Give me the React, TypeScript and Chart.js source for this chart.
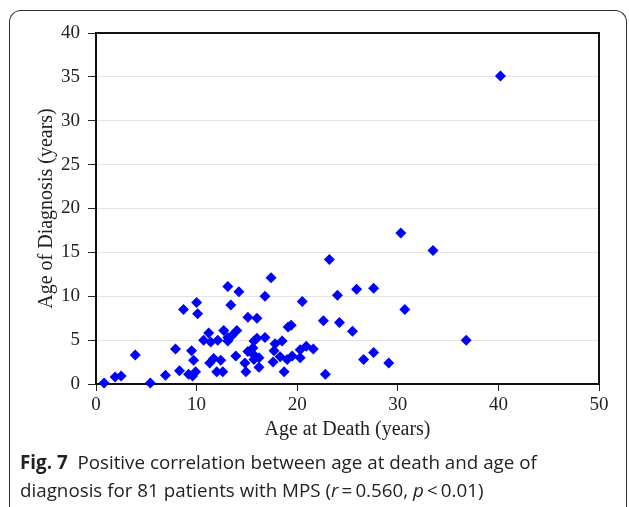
import React, { useEffect, useRef } from "react";
import { Chart, registerables } from "chart.js";

Chart.register(...registerables);

const ageAtDeath: number[] = [
  0.8, 1.9, 2.5, 3.9, 5.4, 6.9, 7.9, 8.3, 8.7, 9.2, 9.5, 9.7, 9.6, 9.9, 10.0, 10.1,
  13.1, 13.4, 14.2, 16.8, 15.1, 16.0, 11.2, 10.7, 11.4, 12.1, 12.7, 13.1, 13.5, 13.1,
  14.0, 16.0, 16.8, 17.8, 11.3, 11.7, 12.4, 12.0, 12.6, 13.9, 15.1, 15.6, 15.7, 14.8,
  15.7, 16.2, 14.9, 16.2, 17.6, 17.7, 23.2, 17.4, 20.5, 24.0, 25.9, 22.6, 24.2, 25.5,
  19.1, 19.4, 18.5, 18.3, 19.0, 19.5, 20.3, 20.3, 20.9, 21.6, 18.7, 22.8, 26.6, 30.3,
  33.5, 27.6, 30.7, 27.6, 29.1, 40.2, 36.8, 15.7,
];
const ageOfDiagnosis: number[] = [
  0.1, 0.8, 0.9, 3.3, 0.1, 1.0, 4.0, 1.5, 8.5, 1.1, 3.8, 2.7, 0.9, 1.4, 9.3, 8.0,
  11.1, 9.0, 10.5, 10.0, 7.6, 7.5, 5.8, 5.0, 4.8, 5.0, 6.1, 5.3, 5.5, 4.9,
  6.1, 5.2, 5.3, 4.6, 2.4, 2.9, 2.7, 1.4, 1.4, 3.2, 3.7, 4.1, 3.3, 2.4,
  2.8, 3.0, 1.4, 1.9, 2.5, 3.8, 14.2, 12.1, 9.4, 10.1, 10.8, 7.2, 7.0, 6.0,
  6.5, 6.7, 4.9, 3.1, 2.8, 3.2, 3.9, 3.0, 4.3, 4.0, 1.4, 1.1, 2.8, 17.2,
  15.2, 10.9, 8.5, 3.6, 2.4, 35.1, 5.0, 4.9,
];
const xTicks: number[] = [0, 10, 20, 30, 40, 50];
const yTicks: number[] = [0, 5, 10, 15, 20, 25, 30, 35, 40];
const xTitle = "Age at Death (years)";
const yTitle = "Age of Diagnosis (years)";

const W = 629;
const H = 507;

const framePlugin = {
  id: "frame",
  beforeDatasetsDraw(chart: any) {
    const { ctx, chartArea } = chart;
    ctx.save();
    ctx.strokeStyle = "#111";
    ctx.lineWidth = 2;
    ctx.strokeRect(chartArea.left, chartArea.top, chartArea.right - chartArea.left, chartArea.bottom - chartArea.top);
    ctx.restore();
  },
};

export default function App() {
  const ref = useRef<HTMLCanvasElement | null>(null);
  useEffect(() => {
    if (!ref.current) return;
    const data = ageAtDeath.map((x, i) => ({ x, y: ageOfDiagnosis[i] }));
    const chart = new Chart(ref.current, {
      type: "scatter",
      data: {
        datasets: [
          {
            data,
            pointStyle: "rectRot",
            pointRadius: 5.5,
            pointBackgroundColor: "#0000ff",
            pointBorderColor: "#0000ff",
            pointBorderWidth: 0,
            clip: false,
          } as any,
        ],
      },
      options: {
        responsive: false,
        animation: false,
        devicePixelRatio: 1,
        layout: { padding: { left: 0, right: 30, top: 33, bottom: 53 } },
        plugins: { legend: { display: false }, tooltip: { enabled: false } },
        scales: {
          x: {
            type: "linear",
            min: 0,
            max: 50,
            afterBuildTicks: (s: any) => {
              s.ticks = xTicks.map((v) => ({ value: v }));
            },
            afterFit: (s: any) => {
              s.height = 70;
            },
            ticks: {
              color: "#222",
              padding: 3,
              font: { family: "'Liberation Serif', serif", size: 19 },
            },
            grid: { drawOnChartArea: false, tickLength: 7, tickColor: "#222", color: "#222" },
            border: { color: "#111", width: 2 },
            title: {
              display: true,
              text: xTitle,
              color: "#222",
              font: { family: "'Liberation Serif', serif", size: 20 },
              padding: { top: 0, bottom: 12 },
            },
          },
          y: {
            type: "linear",
            min: 0,
            max: 40,
            afterBuildTicks: (s: any) => {
              s.ticks = yTicks.map((v) => ({ value: v }));
            },
            afterFit: (s: any) => {
              s.width = 96;
            },
            ticks: {
              color: "#222",
              padding: 8,
              font: { family: "'Liberation Serif', serif", size: 19 },
            },
            grid: { drawOnChartArea: true, tickLength: 8, tickColor: "#222", color: "#e4e4e4", lineWidth: 1 },
            border: { color: "#111", width: 2 },
            title: {
              display: true,
              text: yTitle,
              color: "#222",
              font: { family: "'Liberation Serif', serif", size: 20 },
              padding: { top: 35, bottom: 0 },
            },
          },
        },
      },
      plugins: [framePlugin],
    });
    return () => chart.destroy();
  }, []);

  return (
    <div style={{ position: "absolute", left: 0, top: 0, width: W, height: H, overflow: "hidden", background: "#fff" }}>
      <div
        style={{
          position: "absolute",
          left: 9,
          top: 10,
          width: 616,
          height: 560,
          borderLeft: "1.5px solid #333",
          borderTop: "1.5px solid #333",
          borderRight: "1.5px solid #333",
          borderRadius: 12,
        }}
      />
      <canvas ref={ref} width={W} height={H} style={{ position: "absolute", left: 0, top: 0, width: W, height: H }} />
      <div
        style={{
          position: "absolute",
          left: 20,
          top: 448,
          fontFamily: "'Open Sans', sans-serif",
          fontSize: 18.8,
          lineHeight: "28px",
          color: "#222",
          whiteSpace: "nowrap",
        }}
      >
        <b>Fig. 7</b>&nbsp; Positive correlation between age at death and age of
        <br />
        diagnosis for 81 patients with MPS (<i>r</i>&thinsp;=&thinsp;0.560, <i>p</i>&thinsp;&lt;&thinsp;0.01)
      </div>
    </div>
  );
}
